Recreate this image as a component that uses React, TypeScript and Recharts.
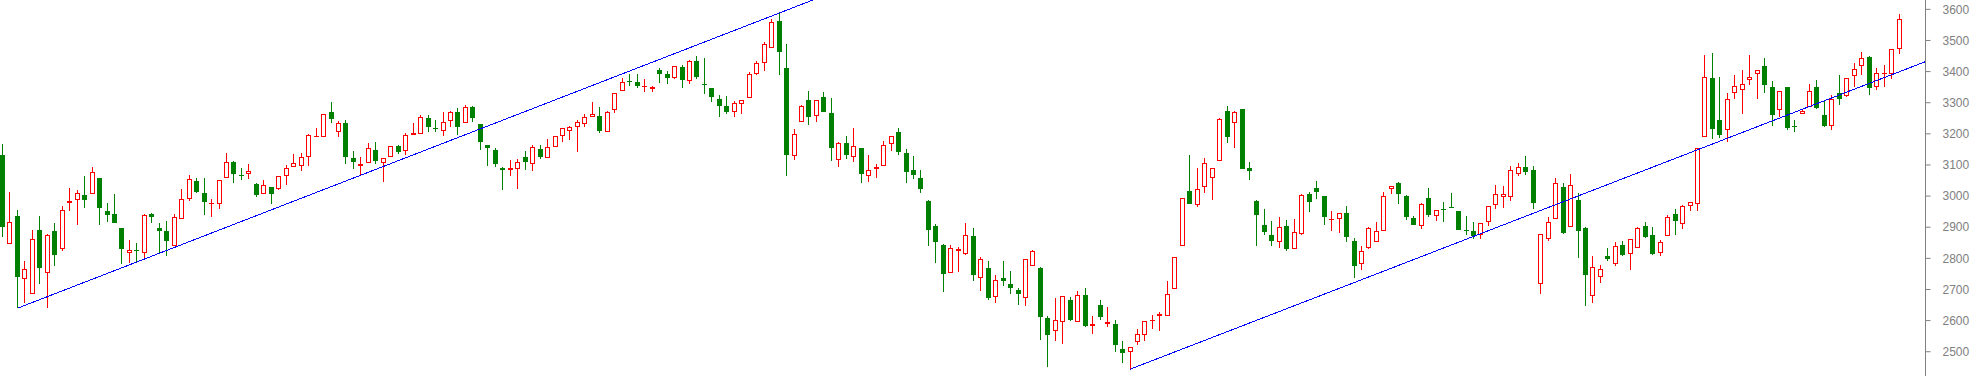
import React from 'react';
import { ComposedChart, Bar, XAxis, YAxis, ReferenceLine } from 'recharts';

const opens = [3132,2847,2936,2733,2685,2891,2754,2888,2829,2978,2987,3003,3006,3058,2952,2942,2898,2816,2827,2816,2942,2898,2888,2841,2925,2992,3048,3010,2974,2974,
3057,3109,3068,3070,3039,3006,3028,3022,3064,3092,3096,3125,3189,3189,3269,3205,3234,3121,3096,3105,3147,3105,3125,3161,3144,3197,3199,3251,3219,3208,
3240,3270,3234,3286,3232,3163,3148,3089,3085,3086,3126,3102,3151,3121,3157,3192,3208,3221,3231,3253,3257,3205,3276,3337,3370,3367,3351,3343,3405,3392,
3381,3415,3369,3434,3360,3347,3312,3290,3269,3295,3314,3391,3427,3475,3563,3412,3128,3237,3309,3256,3318,3267,3117,3171,3125,3155,3064,3086,3096,3166,
3205,3137,3084,3057,2984,2903,2842,2752,2825,2815,2871,2736,2769,2675,2737,2718,2698,2672,2775,2769,2609,2566,2595,2666,2595,2682,2582,2650,2590,2589,
2509,2498,2530,2553,2600,2616,2614,2701,2839,3015,2970,3028,3057,3112,3273,3234,3280,3090,2984,2907,2875,2852,2904,2831,2879,3007,3026,3000,2922,2925,
2946,2856,2781,2834,2852,2887,3024,3042,3000,2929,2905,2993,2935,2959,2966,2952,2892,2888,2874,2916,2970,2998,2998,3070,3093,3083,2717,2861,2925,3029,
2900,2988,2898,2678,2739,2808,2783,2843,2813,2832,2903,2874,2816,2871,2942,2909,2967,2974,3189,3379,3245,3211,3330,3340,3372,3392,3418,3349,3276,3351,
3224,3263,3285,3351,3261,3226,3331,3323,3385,3417,3447,3349,3393,3393,3474];

const highs = [3167,3013,2955,2792,2891,2936,2878,2914,2968,3027,3019,3065,3092,3058,2978,3006,2898,2859,2848,2942,2945,2913,2920,2942,3023,3068,3058,3058,2990,3051,
3139,3113,3090,3103,3042,3052,3028,3065,3100,3135,3139,3199,3219,3263,3302,3240,3243,3145,3127,3170,3174,3121,3160,3164,3202,3235,3260,3261,3245,3270,
3272,3283,3292,3290,3232,3163,3154,3092,3116,3118,3145,3163,3164,3182,3192,3220,3225,3245,3263,3302,3286,3272,3330,3378,3392,3392,3375,3353,3412,3402,
3418,3421,3437,3451,3444,3347,3325,3322,3306,3309,3399,3434,3495,3570,3587,3489,3217,3292,3338,3309,3334,3315,3173,3193,3219,3155,3132,3103,3177,3192,
3219,3151,3129,3084,2988,2910,2845,2842,2836,2913,2897,2803,2792,2746,2792,2760,2705,2797,2827,2772,2615,2673,2679,2676,2695,2705,2615,2666,2644,2602,
2535,2515,2573,2599,2619,2628,2727,2803,2993,3132,3090,3122,3089,3251,3290,3273,3280,3110,2988,2959,2920,2933,2923,2927,3007,3013,3049,3000,2952,2946,
2968,2866,2839,2901,2917,3013,3031,3045,3004,2936,2979,3026,2954,2981,3010,2952,2936,2917,2914,2968,3036,3033,3097,3105,3130,3097,2878,2933,3058,3042,
3071,3010,2900,2806,2778,2833,2852,2856,2862,2900,2917,2900,2859,2939,2959,2971,2980,3154,3454,3461,3383,3331,3389,3405,3453,3405,3444,3370,3338,3351,
3243,3279,3361,3373,3310,3324,3389,3378,3429,3462,3450,3412,3421,3472,3584];

const lows = [2870,2847,2640,2658,2685,2718,2642,2777,2822,2953,2908,2963,3006,2908,2918,2915,2783,2784,2786,2800,2913,2816,2809,2841,2925,2985,3010,2940,2934,2960,
3057,3043,3053,3056,2998,3006,2973,3018,3037,3092,3082,3098,3189,3189,3236,3191,3104,3088,3069,3105,3104,3046,3125,3136,3133,3197,3199,3207,3206,3193,
3223,3197,3234,3239,3149,3098,3095,3018,3063,3023,3085,3082,3120,3121,3157,3175,3181,3143,3223,3253,3204,3205,3268,3337,3354,3347,3336,3336,3362,3361,
3375,3348,3359,3375,3329,3303,3255,3263,3255,3265,3314,3388,3402,3475,3390,3066,3117,3237,3230,3239,3271,3114,3095,3120,3111,3043,3046,3059,3096,3146,
3133,3043,3056,3011,2841,2786,2693,2752,2757,2812,2728,2696,2667,2655,2712,2687,2651,2648,2775,2538,2452,2536,2526,2600,2595,2581,2558,2603,2581,2500,
2465,2444,2521,2536,2574,2565,2614,2701,2839,2973,2966,3011,2989,3112,3169,3156,3088,3052,2841,2876,2841,2834,2825,2829,2876,2950,2992,2908,2889,2883,
2854,2738,2761,2831,2852,2887,3008,2973,2924,2908,2895,2934,2921,2918,2964,2892,2876,2861,2861,2905,2960,2963,2985,3063,3069,2957,2687,2855,2925,2879,
2900,2802,2648,2658,2722,2793,2777,2806,2761,2832,2866,2812,2806,2871,2876,2893,2953,2953,3189,3185,3188,3175,3311,3265,3356,3313,3330,3224,3253,3211,
3205,3263,3285,3279,3221,3211,3294,3317,3349,3388,3326,3340,3349,3377,3458];

const closes = [2902,2916,2741,2765,2861,2770,2874,2811,2954,2984,3009,2989,3076,2963,2940,2915,2831,2826,2825,2938,2932,2889,2857,2932,2990,3054,3014,2982,2978,3051,
3109,3072,3066,3080,3005,3036,3008,3065,3089,3105,3125,3195,3193,3263,3247,3234,3125,3111,3103,3154,3114,3121,3160,3143,3195,3202,3253,3221,3215,3237,
3269,3223,3285,3250,3175,3156,3104,3085,3089,3109,3108,3158,3124,3157,3192,3218,3221,3237,3253,3263,3210,3269,3330,3366,3368,3354,3354,3349,3393,3381,
3418,3374,3433,3384,3356,3319,3291,3269,3299,3309,3392,3428,3489,3559,3464,3133,3199,3288,3255,3309,3271,3156,3170,3133,3161,3072,3083,3092,3163,3192,
3143,3079,3069,3024,2892,2851,2751,2832,2831,2874,2745,2797,2671,2730,2728,2706,2684,2797,2823,2610,2555,2601,2678,2602,2681,2584,2589,2610,2596,2520,
2497,2515,2557,2598,2602,2622,2685,2803,2993,2973,3022,3105,3089,3248,3191,3269,3088,3082,2940,2886,2857,2900,2831,2884,3004,2982,3014,2934,2927,2945,
2870,2777,2823,2897,2887,2999,3031,3008,2934,2908,2975,2940,2954,2957,2964,2892,2890,2872,2913,2967,3006,3006,3083,3093,3079,2979,2877,2916,3042,2883,
3036,2889,2748,2771,2766,2799,2839,2812,2861,2897,2869,2815,2852,2932,2921,2967,2980,3154,3382,3217,3197,3311,3353,3359,3382,3404,3358,3262,3337,3220,
3221,3272,3337,3282,3226,3312,3313,3378,3407,3444,3348,3396,3397,3472,3568];

const emptySlots = 3;
const yTicks = [2500, 2600, 2700, 2800, 2900, 3000, 3100, 3200, 3300, 3400, 3500, 3600];
const yDomain = [2422, 3630];
const trendA = [{ i: 2, v: 2640 }, { i: 108.5, v: 3630 }];
const trendB = [{ i: 151, v: 2444 }, { i: 257.5, v: 3432 }];

const RED = '#ff0000';
const GREEN = '#008000';
const BLUE = '#0000ff';
const GRAY = '#808080';

const rows = [
  ...opens.map((o, i) => ({ i, o, h: highs[i], l: lows[i], c: closes[i], range: [lows[i], highs[i]] })),
  ...Array.from({ length: emptySlots }, (_, k) => ({ i: opens.length + k })),
];

const Candle = (props: any) => {
  const { x, y, width, height, payload } = props;
  if (!payload || payload.o == null) return null;
  const { o, h, l, c } = payload;
  const t0 = Math.min(y, y + height);
  const b0 = Math.max(y, y + height);
  const span = h - l;
  const yOf = (p: number) => (span > 0 ? t0 + ((h - p) / span) * (b0 - t0) : t0);
  const cx = x + width / 2;
  const px = Math.floor(cx);
  const up = c > o;
  const color = up ? RED : GREEN;
  const yH = Math.round(yOf(h));
  const yL = Math.round(yOf(l));
  const top = Math.round(yOf(Math.max(o, c)));
  let bot = Math.round(yOf(Math.min(o, c)));
  if (bot - top < 1) bot = top + 1;
  if (!up || bot - top < 3) {
    return (
      <g shapeRendering="crispEdges">
        <line x1={px + 0.5} x2={px + 0.5} y1={yH} y2={yL} stroke={color} strokeWidth={1} />
        <rect x={px - 2} y={top} width={5} height={bot - top} fill={color} />
      </g>
    );
  }
  return (
    <g shapeRendering="crispEdges">
      {yH < top && <line x1={px + 0.5} x2={px + 0.5} y1={yH} y2={top} stroke={color} strokeWidth={1} />}
      {yL > bot && <line x1={px + 0.5} x2={px + 0.5} y1={bot} y2={yL} stroke={color} strokeWidth={1} />}
      <rect x={px - 1.5} y={top + 0.5} width={4} height={bot - top - 1} fill="none" stroke={color} strokeWidth={1} />
    </g>
  );
};

export default function App() {
  return (
    <div style={{ position: 'absolute', left: -1, top: 0, width: 1977, height: 376, background: '#ffffff' }}>
      <ComposedChart width={1977} height={376} data={rows} margin={{ top: 0, right: 0, bottom: 0, left: 0 }}>
        <XAxis xAxisId="cat" dataKey="i" type="category" hide />
        <XAxis xAxisId="num" dataKey="i" type="number" domain={[-0.5, 257.5]} allowDataOverflow hide />
        <YAxis
          orientation="right"
          domain={yDomain}
          ticks={yTicks}
          allowDataOverflow
          width={50.5}
          tickSize={5}
          tickMargin={12}
          axisLine={{ stroke: GRAY }}
          tickLine={{ stroke: GRAY }}
          tick={{ fill: GRAY, fontSize: 12, fontFamily: 'Liberation Sans, Arial, sans-serif' }}
        />
        <Bar xAxisId="cat" dataKey="range" barSize={5} shape={<Candle />} isAnimationActive={false} />
        <ReferenceLine
          xAxisId="num"
          segment={[{ x: trendA[0].i, y: trendA[0].v }, { x: trendA[1].i, y: trendA[1].v }]}
          stroke={BLUE}
          strokeWidth={1}
          shapeRendering="crispEdges"
          ifOverflow="visible"
        />
        <ReferenceLine
          xAxisId="num"
          segment={[{ x: trendB[0].i, y: trendB[0].v }, { x: trendB[1].i, y: trendB[1].v }]}
          stroke={BLUE}
          strokeWidth={1}
          shapeRendering="crispEdges"
          ifOverflow="visible"
        />
      </ComposedChart>
    </div>
  );
}
